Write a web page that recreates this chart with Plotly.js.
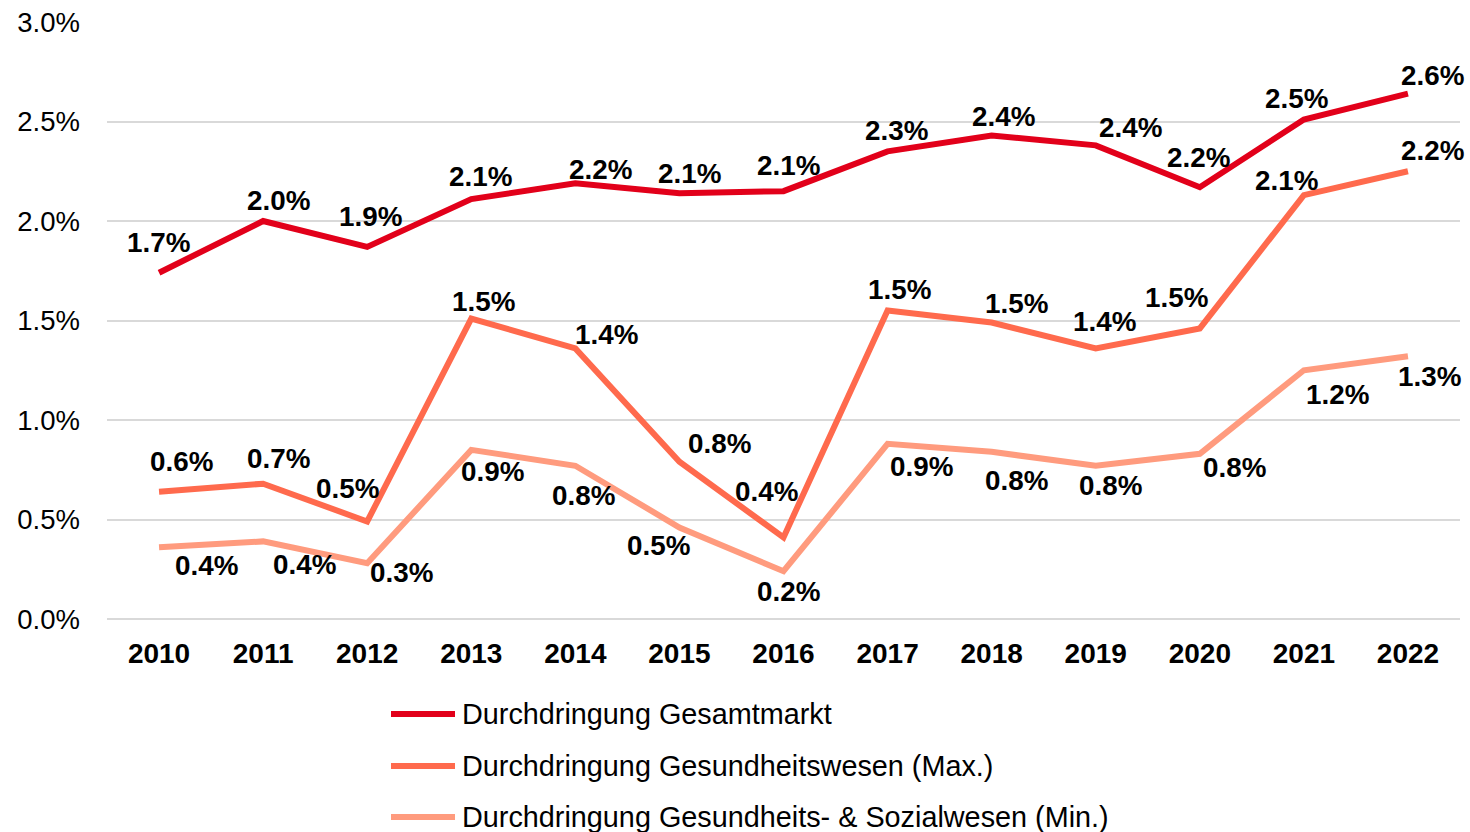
<!DOCTYPE html>
<html>
<head>
<meta charset="utf-8">
<script src="https://cdn.plot.ly/plotly-3.0.1.min.js"></script>
<style>html,body{margin:0;padding:0;background:#fff;}#chart{width:1470px;height:832px;}</style>
</head>
<body>
<div id="chart"></div>
<script>
// ---- data ----
const years = [2010,2011,2012,2013,2014,2015,2016,2017,2018,2019,2020,2021,2022];
const seriesNames = [
  "Durchdringung Gesamtmarkt",
  "Durchdringung Gesundheitswesen (Max.)",
  "Durchdringung Gesundheits- & Sozialwesen (Min.)"
];
const gesamtmarkt = [1.74,2.00,1.87,2.11,2.19,2.14,2.15,2.35,2.43,2.38,2.17,2.51,2.64];
const gesundheitMax = [0.64,0.68,0.49,1.51,1.36,0.79,0.41,1.55,1.49,1.36,1.46,2.13,2.25];
const sozialMin = [0.36,0.39,0.28,0.85,0.77,0.46,0.24,0.88,0.84,0.77,0.83,1.25,1.32];
const gesamtLabels = ["1.7%","2.0%","1.9%","2.1%","2.2%","2.1%","2.1%","2.3%","2.4%","2.4%","2.2%","2.5%","2.6%"];
const maxLabels = ["0.6%","0.7%","0.5%","1.5%","1.4%","0.8%","0.4%","1.5%","1.5%","1.4%","1.5%","2.1%","2.2%"];
const minLabels = ["0.4%","0.4%","0.3%","0.9%","0.8%","0.5%","0.2%","0.9%","0.8%","0.8%","0.8%","1.2%","1.3%"];
const yTickVals = [0,0.5,1,1.5,2,2.5,3];
const yTickText = ["0.0%","0.5%","1.0%","1.5%","2.0%","2.5%","3.0%"];

// ---- styles / label offsets (px) ----
const colors = ["#E2001A","#FF6A4D","#FF9B7E"];
const offs = [
  [[-1,-30],[15,-21],[3,-30],[9,-23],[25,-14],[10,-20],[5,-26],[9,-21],[12,-19],[35,-18],[-1,-30],[-7,-21],[25,-18]],
  [[22,-30],[15,-25],[-20,-33],[12,-17],[31,-14],[40,-18],[-17,-46],[12,-21],[25,-19],[9,-27],[-23,-31],[-17,-15],[25,-21]],
  [[47,18],[41,23],[34,9],[21,22],[8,30],[-21,18],[5,20],[34,23],[25,29],[15,20],[35,14],[34,24],[22,20]]
];
const font = "'Liberation Sans', Arial, sans-serif";
const series = [gesamtmarkt, gesundheitMax, sozialMin];
const labels = [gesamtLabels, maxLabels, minLabels];

const traces = series.map((vals, i) => ({
  type: "scatter", mode: "lines", x: years, y: vals, name: seriesNames[i],
  line: {color: colors[i], width: 6}, showlegend: false, hoverinfo: "skip"
}));

const annotations = [];
series.forEach((vals, i) => {
  vals.forEach((v, j) => {
    annotations.push({
      x: years[j], y: v, xref: "x", yref: "y", text: labels[i][j], showarrow: false,
      xshift: offs[i][j][0], yshift: -offs[i][j][1],
      font: {family: font, size: 27.8, color: "#000", weight: "bold"}
    });
  });
});

// custom legend
const L = 107, W = 1353, T = 22, H = 597;
const px2x = p => (p - L) / W;
const py2y = p => (T + H - p) / H;
const legendRows = [714, 766, 817];
const shapes = [];
seriesNames.forEach((n, i) => {
  shapes.push({type: "line", xref: "paper", yref: "paper",
    x0: px2x(391), x1: px2x(455), y0: py2y(legendRows[i]), y1: py2y(legendRows[i]),
    line: {color: colors[i], width: 6}});
  annotations.push({xref: "paper", yref: "paper", x: px2x(460), y: py2y(legendRows[i]),
    xanchor: "left", yanchor: "middle", text: n, showarrow: false,
    font: {family: font, size: 28.8, color: "#000"}});
});

const layout = {
  width: 1470, height: 832,
  margin: {l: L, r: 1470 - L - W, t: T, b: 832 - T - H},
  paper_bgcolor: "#fff", plot_bgcolor: "#fff",
  showlegend: false,
  xaxis: {
    range: [2009.5, 2022.5], tickvals: years, ticktext: years.map(String),
    showgrid: false, zeroline: false, showline: false, ticks: "",
    ticklabelstandoff: 15,
    tickfont: {family: font, size: 28, color: "#000", weight: "bold"}
  },
  yaxis: {
    range: [0, 3], tickvals: yTickVals, ticktext: yTickText,
    showgrid: true, gridcolor: "#D9D9D9", gridwidth: 2,
    zeroline: true, zerolinecolor: "#D9D9D9", zerolinewidth: 2,
    showline: false, ticks: "", ticklabelstandoff: 26,
    tickfont: {family: font, size: 27.5, color: "#000"}
  },
  annotations: annotations,
  shapes: shapes
};

Plotly.newPlot("chart", traces, layout, {displayModeBar: false, staticPlot: true});
</script>
</body>
</html>
